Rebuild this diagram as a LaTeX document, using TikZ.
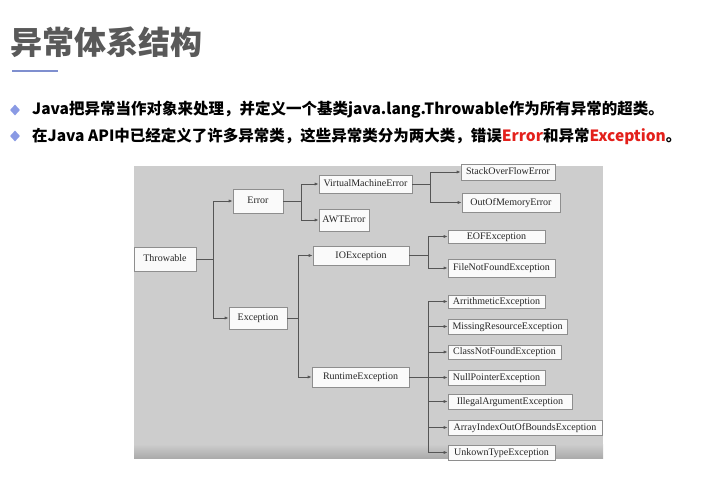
\documentclass[tikz,border=0pt]{standalone}
\usepackage{fontspec}
\setmainfont{Liberation Serif}
\newfontfamily\cjk{Noto Sans CJK SC}
\usetikzlibrary{arrows.meta,shadows,shapes.geometric}
\definecolor{panel}{HTML}{CDCDCD}
\definecolor{panelb}{HTML}{ABABAB}
\definecolor{boxline}{HTML}{8E8E8E}
\definecolor{boxfill}{HTML}{FAFAFA}
\definecolor{conn}{HTML}{555555}
\definecolor{titlec}{HTML}{595959}
\definecolor{accent}{HTML}{8A9AE4}
\definecolor{uline}{HTML}{7F8FCF}
\definecolor{redc}{HTML}{E3201B}
\tikzset{
  bx/.style={draw=boxline, fill=boxfill, line width=0.7pt, inner sep=0pt,
    text height=7pt, text depth=1.5pt,
    font=\fontsize{10}{12}\selectfont, text=black!85,
    drop shadow={shadow xshift=0.8pt, shadow yshift=-0.8pt, fill=black, opacity=0.25}},
  arr/.style={draw=conn, line width=0.8pt, -{Latex[length=4pt,width=3.2pt]}},
  ln/.style={draw=conn, line width=0.8pt},
  bullet/.style={diamond, fill=accent, inner sep=0pt, minimum width=10pt, minimum height=11pt},
  linetext/.style={anchor=west, inner sep=0pt, font=\cjk\bfseries\fontsize{15.5}{18}\selectfont}
}
\begin{document}
\begin{tikzpicture}[x=1pt,y=-1pt]
\useasboundingbox (0,0) rectangle (726,480);
% title
\node[anchor=west, inner sep=0pt, text=titlec, font=\cjk\bfseries\fontsize{32}{36}\selectfont] (title) at (10,42) {异常体系结构};
\draw[uline, line width=2pt] (12,71) -- (58,71);
% bullets
\node[bullet] (b1) at (15,110) {};
\node[bullet] (b2) at (15,136) {};
\node[linetext] (t1) at (32,110) {Java把异常当作对象来处理，并定义一个基类java.lang.Throwable作为所有异常的超类。};
\node[linetext] (t2) at (32,136) {在Java API中已经定义了许多异常类，这些异常类分为两大类，错误\textcolor{redc}{Error}和异常\textcolor{redc}{Exception}。};
% panel
\fill[panel] (134,166) rectangle (603,458);
\shade[top color=panel, bottom color=panelb] (134,444) rectangle (603,458);
% nodes
\node[bx, minimum width=62pt, minimum height=24pt] (thr) at (165,259) {Throwable};
\node[bx, minimum width=50pt, minimum height=24pt] (err) at (258,201) {Error};
\node[bx, minimum width=93pt, minimum height=18pt] (vme) at (365.5,184) {VirtualMachineError};
\node[bx, minimum width=50pt, minimum height=22pt] (awt) at (344,220) {AWTError};
\node[bx, minimum width=96pt, minimum height=19pt] (ioe) at (361,255.5) {IOException};
\node[bx, minimum width=94pt, minimum height=16pt] (sof) at (508,172) {StackOverFlowError};
\node[bx, minimum width=98pt, minimum height=19pt] (oom) at (511,202.5) {OutOfMemoryError};
\node[bx, minimum width=97pt, minimum height=13pt] (eof) at (496.5,236.5) {EOFException};
\node[bx, minimum width=107pt, minimum height=18pt] (fnf) at (501.5,268) {FileNotFoundException};
\node[bx, minimum width=58pt, minimum height=22pt] (exc) at (258,318) {Exception};
\node[bx, minimum width=97pt, minimum height=20pt] (rte) at (360.5,377) {RuntimeException};
\node[bx, minimum width=97pt, minimum height=13pt] (ari) at (496.5,301.5) {ArrithmeticException};
\node[bx, minimum width=119pt, minimum height=15pt] (mis) at (507.5,326.5) {MissingResourceException};
\node[bx, minimum width=113pt, minimum height=14pt] (cnf) at (504.5,352) {ClassNotFoundException};
\node[bx, minimum width=97pt, minimum height=15pt] (npe) at (496.5,377.5) {NullPointerException};
\node[bx, minimum width=124pt, minimum height=15pt] (iae) at (510,401.5) {IllegalArgumentException};
\node[bx, minimum width=154pt, minimum height=15pt] (aio) at (525,427.5) {ArrayIndexOutOfBoundsException};
\node[bx, minimum width=107pt, minimum height=15pt] (ute) at (501.5,452.5) {UnkownTypeException};
% junctions
\coordinate (j1) at (213,259);
\coordinate (j2) at (301,201);
\coordinate (j3) at (430,184);
\coordinate (j4) at (298,318);
\coordinate (j5) at (428,255.5);
\coordinate (j6) at (428,377);
% connectors
\draw[ln] (thr.east) -- (j1);
\draw[arr] (j1) |- (err.west);
\draw[arr] (j1) |- (exc.west);
\draw[ln] (err.east) -- (j2);
\draw[arr] (j2) |- (vme.west);
\draw[arr] (j2) |- (awt.west);
\draw[ln] (vme.east) -- (j3);
\draw[arr] (j3) |- (sof.west);
\draw[arr] (j3) |- (oom.west);
\draw[ln] (exc.east) -- (j4);
\draw[arr] (j4) |- (ioe.west);
\draw[arr] (j4) |- (rte.west);
\draw[ln] (ioe.east) -- (j5);
\draw[arr] (j5) |- (eof.west);
\draw[arr] (j5) |- (fnf.west);
\draw[ln] (rte.east) -- (j6);
\foreach \n in {ari,mis,cnf,npe,iae,aio,ute} \draw[arr] (j6) |- (\n.west);
\end{tikzpicture}
\end{document}
